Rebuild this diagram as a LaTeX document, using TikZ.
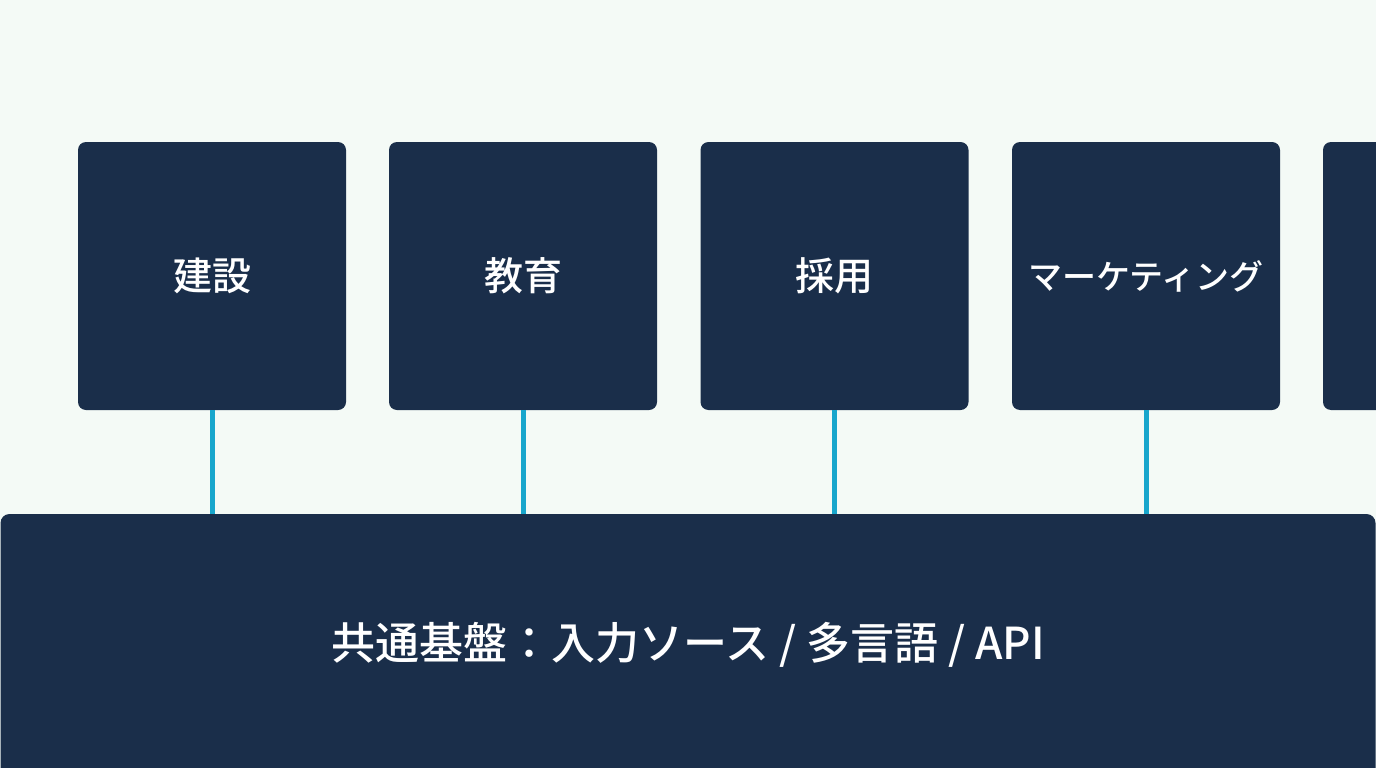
\documentclass[tikz,border=0pt]{standalone}
\usepackage{fontspec}
\newfontfamily\jp{Noto Sans CJK JP Medium}
\definecolor{bgc}{HTML}{F4FAF6}
\definecolor{navy}{HTML}{1A2E4A}
\definecolor{cyanl}{HTML}{18A6CC}
\begin{document}
\begin{tikzpicture}[x=1pt,y=-1pt,
  dombox/.style={fill=navy, draw=none, rounded corners=8pt, minimum width=268pt, minimum height=268pt, inner sep=0pt, text=white, font=\jp\fontsize{39}{44}\selectfont},
  basebox/.style={fill=navy, draw=none, rounded corners=9pt, minimum width=1375pt, minimum height=270pt, inner sep=0pt},
  linkline/.style={draw=cyanl, line width=5pt}]
\useasboundingbox (0,0) rectangle (1376,768);
\fill[bgc] (0,0) rectangle (1376,768);
\clip (0,0) rectangle (1376,768);
\node[basebox] (base) at (688,649) {};
\node[text=white, font=\jp\fontsize{44}{50}\selectfont] (basetxt) at (688,645) {共通基盤：入力ソース / 多言語 / API};
\node[dombox] (d1) at (212,276) {建設};
\node[dombox] (d2) at (523,276) {教育};
\node[dombox] (d3) at (834.5,276) {採用};
\node[dombox, font=\jp\fontsize{34}{40}\selectfont] (d4) at (1146,276) {マーケティング};
\node[dombox] (d5) at (1457,276) {};
\foreach \i in {1,2,3,4}{
  \draw[linkline] (d\i.south) -- (d\i.south |- base.north);
}
\end{tikzpicture}
\end{document}
